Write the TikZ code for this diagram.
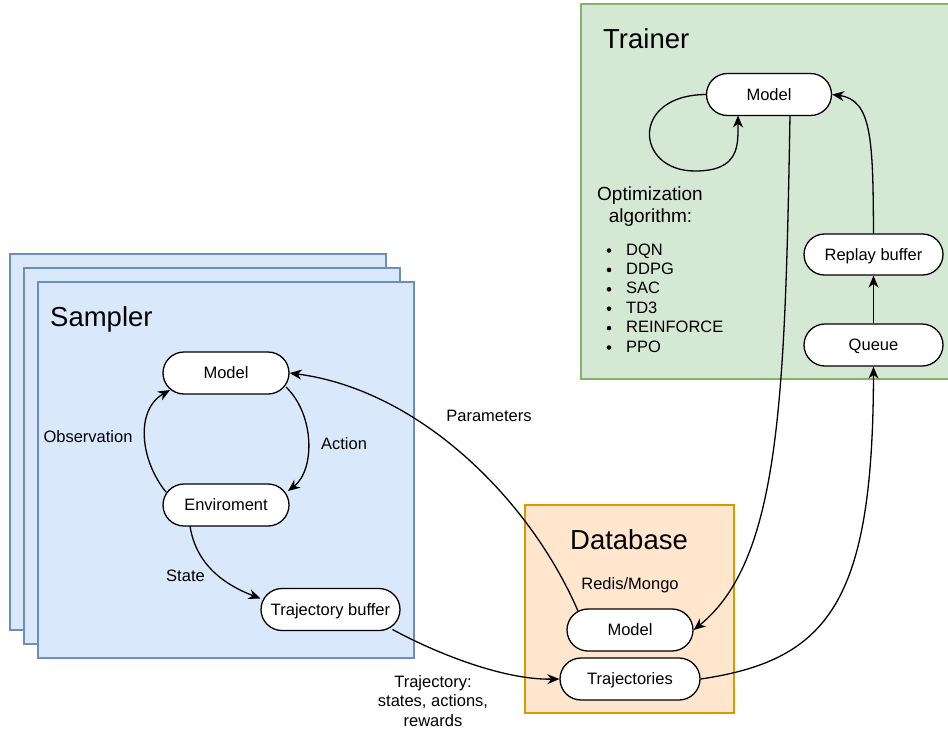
\documentclass[tikz,border=0pt]{standalone}
\usepackage{fontspec}
\setmainfont{Liberation Sans}
\usetikzlibrary{arrows.meta,shapes.misc,calc}
\definecolor{sfill}{HTML}{DAE8FC}
\definecolor{sline}{HTML}{6C8EBF}
\definecolor{tfill}{HTML}{D5E8D4}
\definecolor{tline}{HTML}{82B366}
\definecolor{dfill}{HTML}{FFE6CC}
\definecolor{dline}{HTML}{D79B00}
\tikzset{
  x=1pt, y=-1pt,
  pill/.style={rounded rectangle, draw=black, fill=white, line width=1.3pt,
    minimum height=42pt, inner sep=0pt, text height=11.8pt, text depth=0pt,
    font=\fontsize{16.5}{19.8}\selectfont},
  lbl/.style={font=\fontsize{16.5}{19.8}\selectfont, inner sep=0pt, anchor=base},
  big/.style={font=\fontsize{27.5}{33}\selectfont, inner sep=0pt},
  arr/.style={line width=1.3pt, -{Stealth[length=12pt,width=10pt,inset=3.8pt]}},
  cont/.style={line width=1.3pt},
}
\begin{document}
\begin{tikzpicture}
\useasboundingbox (0,0) rectangle (948,729);
\clip (0,0) rectangle (948,729);
% containers
\draw[cont, draw=sline, fill=sfill] (10,254) rectangle (386,630);
\draw[cont, draw=sline, fill=sfill] (24,268) rectangle (400,644);
\draw[cont, draw=sline, fill=sfill] (38,282) rectangle (414,658);
\draw[cont, draw=tline, fill=tfill] (581,4) rectangle (960,379);
\draw[cont, draw=dline, fill=dfill] (525,505) rectangle (734,713);
% titles
\node[big, anchor=base west] (tsampler) at (50,326) {Sampler};
\node[big, anchor=base west] (ttrainer) at (603,48) {Trainer};
\node[big, anchor=base] (tdb) at (629,549) {Database};
\node[lbl] (redis) at (630,589) {Redis/Mongo};
% nodes
\node[pill, minimum width=126pt] (smodel) at (226,373) {Model};
\node[pill, minimum width=126pt] (senv) at (226,505) {Enviroment};
\node[pill, minimum width=139pt] (stb) at (330.5,609.5) {Trajectory buffer};
\node[pill, minimum width=125pt] (tmodel) at (769,94.5) {Model};
\node[pill, minimum width=139pt, minimum height=41pt] (replay) at (873.5,254.5) {Replay buffer};
\node[pill, minimum width=139pt] (queue) at (873.5,345) {Queue};
\node[pill, minimum width=126pt] (dmodel) at (630,630) {Model};
\node[pill, minimum width=140pt] (dtraj) at (630,679) {Trajectories};
% labels
\node[lbl] (obs) at (88,442) {Observation};
\node[lbl] (act) at (344,449) {Action};
\node[lbl] (state) at (185.5,581) {State};
\node[lbl] (params) at (489,421) {Parameters};
\node[lbl, align=center, anchor=north] (trajlbl) at (433,675)
  {\fontsize{16.5}{18}\selectfont Trajectory:\\states, actions,\\rewards};
\node[font=\fontsize{19}{22}\selectfont, inner sep=0pt, anchor=base] (opt1) at (650,200) {Optimization};
\node[font=\fontsize{19}{22}\selectfont, inner sep=0pt, anchor=base] (opt2) at (650.5,222) {algorithm:};
\foreach \t [count=\i from 0] in {DQN,DDPG,SAC,TD3,REINFORCE,PPO} {
  \node[lbl, anchor=base west] (b\i) at (626,255+19.4*\i) {\t};
  \fill (609,250.5+19.4*\i) circle (2.3pt);
}
% sampler edges
\draw[arr] ($(senv.center)+(-60,-13)$) .. controls (140,460) and (135,410) .. ($(smodel.center)+(-56,17)$);
\draw[arr] ($(smodel.center)+(60,14)$) .. controls (315,415) and (315,470) .. ($(senv.center)+(62,-14)$);
\draw[arr] ($(senv.center)+(-36,21)$) .. controls (196,565) and (225,585) .. ($(stb.center)+(-70,-11)$);
% cross edges
\draw[arr] ($(stb.center)+(62,20)$) .. controls (430,650) and (500,680) .. (dtraj.west);
\draw[arr] ($(dmodel.center)+(-52,-19)$) .. controls (530,500) and (420,390) .. (smodel.east);
\draw[arr] ($(tmodel.center)+(21,21)$) .. controls (785,400) and (780,560) .. (dmodel.east);
\draw[arr] (dtraj.east) .. controls (830,660) and (873,600) .. (queue.south);
% trainer edges
\draw[arr] (queue.north) -- (replay.south);
\draw[arr] (replay.north) .. controls (873,140) and (872,100) .. (tmodel.east);
\draw[arr] (tmodel.west) .. controls (630,95) and (635,171) .. (695,171)
  .. controls (740,171) and (738,145) .. ($(tmodel.center)+(-31,21)$);
\end{tikzpicture}
\end{document}
